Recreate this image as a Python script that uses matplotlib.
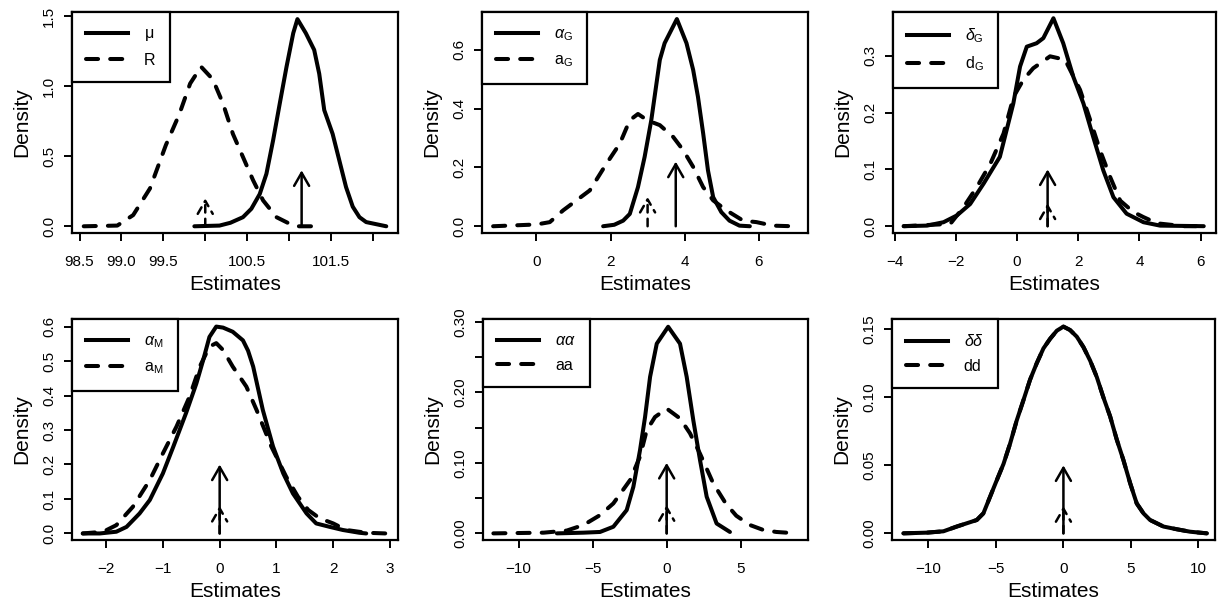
import matplotlib.pyplot as plt
from matplotlib.lines import Line2D

plt.rcParams['font.family'] = ['Liberation Sans', 'DejaVu Sans']
plt.rcParams['mathtext.fontset'] = 'custom'
plt.rcParams['mathtext.rm'] = 'Liberation Sans'
plt.rcParams['mathtext.it'] = 'Liberation Sans:italic'
plt.rcParams['mathtext.bf'] = 'Liberation Sans:bold'

# ---- density estimates ----
# panel 1: mu (solid) and R (dashed)
mu_x = [99.87, 100.17, 100.3, 100.45, 100.55, 100.65, 100.73, 100.81, 100.89, 100.97, 101.05, 101.1,
        101.2, 101.3, 101.36, 101.42, 101.52, 101.6, 101.68, 101.76, 101.84, 101.92, 102.0, 102.16]
mu_y = [0.0, 0.005, 0.025, 0.065, 0.125, 0.23, 0.375, 0.615, 0.88, 1.14, 1.38, 1.48,
        1.38, 1.26, 1.09, 0.83, 0.66, 0.47, 0.28, 0.14, 0.065, 0.03, 0.02, 0.0]
R_x = [98.55, 98.95, 99.14, 99.34, 99.53, 99.69, 99.82, 99.95, 100.09, 100.21, 100.33, 100.45,
       100.57, 100.69, 100.85, 101.0, 101.1, 101.36]
R_y = [0.0, 0.005, 0.08, 0.27, 0.58, 0.8, 1.02, 1.14, 1.05, 0.88, 0.66, 0.495,
       0.33, 0.185, 0.065, 0.02, 0.0, 0.0]

# panel 2: alpha_G (solid) and a_G (dashed)
alphaG_x = [1.8, 2.1, 2.34, 2.52, 2.74, 2.92, 3.1, 3.24, 3.33, 3.46, 3.79, 4.05, 4.23, 4.36,
            4.5, 4.63, 4.77, 4.99, 5.21, 5.48, 5.76]
alphaG_y = [0.0, 0.005, 0.019, 0.042, 0.133, 0.236, 0.361, 0.486, 0.566, 0.623, 0.705, 0.623, 0.532, 0.44,
            0.316, 0.19, 0.099, 0.048, 0.019, 0.002, 0.0]
aG_x = [-1.17, 0.0, 0.36, 0.72, 1.08, 1.44, 1.89, 2.25, 2.52, 2.74, 3.0, 3.33, 3.69, 3.96,
        4.23, 4.5, 4.77, 5.13, 5.58, 5.94, 6.38, 6.92]
aG_y = [0.0, 0.006, 0.014, 0.054, 0.088, 0.122, 0.213, 0.281, 0.361, 0.382, 0.36, 0.344, 0.304, 0.259,
        0.202, 0.133, 0.088, 0.054, 0.019, 0.014, 0.002, 0.0]

# panel 3: delta_G (solid) and d_G (dashed)
deltaG_x = [-3.7, -2.94, -2.4, -1.96, -1.53, -1.09, -0.56, -0.34, -0.12, 0.1, 0.32, 0.64, 0.86, 1.19,
            1.51, 1.84, 2.17, 2.49, 2.82, 3.15, 3.58, 4.13, 4.67, 6.1]
deltaG_y = [0.0, 0.001, 0.007, 0.019, 0.039, 0.075, 0.122, 0.169, 0.216, 0.281, 0.316, 0.322, 0.331, 0.366,
            0.322, 0.263, 0.216, 0.157, 0.098, 0.051, 0.022, 0.007, 0.001, 0.0]
dG_x = [-3.7, -2.18, -1.74, -1.31, -0.87, -0.44, -0.11, 0.21, 0.53, 1.08, 1.57, 2.06, 2.39, 2.71,
        3.04, 3.37, 3.8, 4.13, 4.58, 5.45, 6.1]
dG_y = [0.0, 0.004, 0.034, 0.069, 0.11, 0.163, 0.228, 0.258, 0.278, 0.299, 0.293, 0.24, 0.187, 0.134,
        0.087, 0.045, 0.025, 0.016, 0.005, 0.0, 0.0]

# panel 4: alpha_M (solid) and a_M (dashed)
alphaM_x = [-2.41, -2.11, -1.82, -1.64, -1.41, -1.23, -1.0, -0.82, -0.59, -0.41, -0.29, -0.18, -0.06,
            0.06, 0.23, 0.41, 0.5, 0.59, 0.76, 0.94, 1.12, 1.29, 1.53, 1.7, 1.94, 2.17, 2.46, 2.58]
alphaM_y = [0.0, 0.0, 0.005, 0.019, 0.058, 0.097, 0.174, 0.25, 0.35, 0.435, 0.503, 0.57, 0.6,
            0.597, 0.585, 0.56, 0.53, 0.484, 0.358, 0.252, 0.174, 0.116, 0.058, 0.029, 0.019, 0.01, 0.002, 0.0]
aM_x = [-2.41, -2.05, -1.82, -1.53, -1.23, -1.0, -0.76, -0.53, -0.35, -0.18, -0.06, 0.06, 0.23, 0.47,
        0.65, 0.91, 1.17, 1.38, 1.56, 1.76, 2.0, 2.23, 2.58, 2.93]
aM_y = [0.0, 0.005, 0.024, 0.077, 0.155, 0.232, 0.31, 0.397, 0.484, 0.542, 0.552, 0.532, 0.484, 0.426,
        0.358, 0.252, 0.165, 0.106, 0.068, 0.044, 0.029, 0.01, 0.002, 0.0]

# panel 5: alpha-alpha (solid) and aa (dashed)
alphaalpha_x = [-7.41, -5.61, -4.5, -3.6, -2.7, -2.25, -1.8, -1.46, -1.12, -0.67, 0.1, 0.9, 1.35,
                1.8, 2.25, 2.7, 3.37, 4.27]
alphaalpha_y = [0.0, 0.001, 0.002, 0.0094, 0.033, 0.066, 0.118, 0.165, 0.222, 0.269, 0.293, 0.269, 0.222,
                0.16, 0.104, 0.052, 0.014, 0.002]
aa_x = [-11.7, -8.3, -6.74, -5.6, -4.49, -3.6, -2.47, -1.8, -1.35, -0.79, 0.0, 0.9, 1.57, 2.25,
        3.14, 4.0, 4.7, 5.6, 6.5, 7.4, 8.8]
aa_y = [0.0, 0.001, 0.004, 0.012, 0.026, 0.0425, 0.0756, 0.109, 0.146, 0.165, 0.177, 0.163, 0.142, 0.113,
        0.071, 0.042, 0.025, 0.012, 0.005, 0.002, 0.0]

# panel 6: delta-delta (solid) and dd (dashed, hidden under the solid curve)
deltadelta_x = [-11.85, -10.12, -8.89, -7.9, -7.16, -6.42, -5.93, -5.43, -4.94, -4.44, -3.95, -3.46,
                -2.96, -2.47, -1.98, -1.48, -0.99, -0.49, 0.0, 0.49, 0.99, 1.48, 1.98, 2.47, 2.96,
                3.46, 3.95, 4.44, 4.94, 5.43, 5.93, 6.42, 7.41, 8.4, 9.38, 10.62]
deltadelta_y = [0.0, 0.0005, 0.0015, 0.005, 0.0074, 0.0098, 0.0147, 0.027, 0.039, 0.051, 0.066, 0.083,
                0.098, 0.113, 0.125, 0.136, 0.143, 0.149, 0.152, 0.1495, 0.1446, 0.137, 0.127, 0.115, 0.1,
                0.086, 0.069, 0.054, 0.037, 0.022, 0.0147, 0.0098, 0.005, 0.003, 0.0012, 0.0]
dd_x = [-11.85, -10.12, -8.89, -7.9, -7.16, -6.42, -5.93, -5.43, -4.94, -4.44, -3.95, -3.46,
        -2.96, -2.47, -1.98, -1.48, -0.99, -0.49, 0.0, 0.49, 0.99, 1.48, 1.98, 2.47, 2.96,
        3.46, 3.95, 4.44, 4.94, 5.43, 5.93, 6.42, 7.41, 8.4, 9.38, 10.62]
dd_y = [0.0, 0.0005, 0.0015, 0.005, 0.0074, 0.0098, 0.0147, 0.027, 0.039, 0.051, 0.066, 0.083,
        0.098, 0.113, 0.125, 0.136, 0.143, 0.149, 0.152, 0.1495, 0.1446, 0.137, 0.127, 0.115, 0.1,
        0.086, 0.069, 0.054, 0.037, 0.022, 0.0147, 0.0098, 0.005, 0.003, 0.0012, 0.0]

# true values (arrow position) and arrow heights: [solid, dashed]
true_values = [[101.15, 100.0], [3.76, 3.0], [1.0, 1.0], [0.0, 0.0], [0.0, 0.0], [0.0, 0.0]]
arrow_heights = [[0.4, 0.2], [0.22, 0.1], [0.1, 0.04], [0.2, 0.08], [0.1, 0.04], [0.05, 0.02]]

legend_labels = [[r'$\mathrm{\mu}$', 'R'],
                 [r'$\alpha_{\mathrm{G}}$', r'$\mathrm{a_G}$'],
                 [r'$\delta_{\mathrm{G}}$', r'$\mathrm{d_G}$'],
                 [r'$\alpha_{\mathrm{M}}$', r'$\mathrm{a_M}$'],
                 [r'$\alpha\alpha$', 'aa'],
                 [r'$\delta\delta$', 'dd']]

# axis ticks and labels
x_ticks = [[98.5, 99.0, 99.5, 100.0, 100.5, 101.0, 101.5, 102.0],
           [0, 2, 4, 6], [-4, -2, 0, 2, 4, 6], [-2, -1, 0, 1, 2, 3],
           [-10, -5, 0, 5], [-10, -5, 0, 5, 10]]
x_tick_labels = [['98.5', '99.0', '99.5', '', '100.5', '', '101.5', ''],
                 ['0', '2', '4', '6'],
                 ['\u22124', '\u22122', '0', '2', '4', '6'],
                 ['\u22122', '\u22121', '0', '1', '2', '3'],
                 ['\u221210', '\u22125', '0', '5'],
                 ['\u221210', '\u22125', '0', '5', '10']]
y_ticks = [[0.0, 0.5, 1.0, 1.5], [0.0, 0.2, 0.4, 0.6], [0.0, 0.1, 0.2, 0.3],
           [0.0, 0.1, 0.2, 0.3, 0.4, 0.5, 0.6],
           [0.0, 0.05, 0.10, 0.15, 0.20, 0.25, 0.30], [0.0, 0.05, 0.10, 0.15]]
y_tick_labels = [['0.0', '0.5', '1.0', '1.5'], ['0.0', '0.2', '0.4', '0.6'],
                 ['0.0', '0.1', '0.2', '0.3'],
                 ['0.0', '0.1', '0.2', '0.3', '0.4', '0.5', '0.6'],
                 ['0.00', '', '0.10', '', '0.20', '', '0.30'],
                 ['0.00', '0.05', '0.10', '0.15']]
x_limits = [(98.41, 102.30), (-1.47, 7.33), (-4.05, 6.50), (-2.60, 3.14), (-12.4, 9.54), (-12.7, 11.23)]
y_limits = [(-0.048, 1.531), (-0.023, 0.729), (-0.012, 0.377), (-0.019, 0.622), (-0.0094, 0.304),
            (-0.0049, 0.1576)]

# axes boxes in pixels: left, top, right, bottom
W, H = 1227, 605
boxes = [(72, 12, 398, 233), (482, 12, 808, 233), (893, 12, 1216, 233),
         (72, 319, 398, 540), (483, 319, 808, 540), (892, 319, 1215, 540)]

LW = 2.9
DASH = (0, (3, 3))


def draw_panel(ax, i, solid, dashed):
    ax.plot(dashed[0], dashed[1], color='black', lw=LW, ls=DASH,
            dash_capstyle='round', dash_joinstyle='round')
    ax.plot(solid[0], solid[1], color='black', lw=LW,
            solid_capstyle='round', solid_joinstyle='round')

    # arrows marking the true values
    head = '->,head_length=9.4,head_width=5.4'
    ax.annotate('', xy=(true_values[i][0], arrow_heights[i][0]), xytext=(true_values[i][0], 0),
                arrowprops=dict(arrowstyle=head, mutation_scale=1, lw=1.8, color='black',
                                shrinkA=0, shrinkB=0, capstyle='round'))
    ax.annotate('', xy=(true_values[i][1], arrow_heights[i][1]), xytext=(true_values[i][1], 0),
                arrowprops=dict(arrowstyle=head, mutation_scale=1, lw=1.8, color='black',
                                shrinkA=0, shrinkB=0, linestyle=(0, (3, 2.5)), capstyle='round'))

    ax.set_xlim(x_limits[i])
    ax.set_ylim(y_limits[i])
    ax.set_xticks(x_ticks[i])
    ax.set_xticklabels(x_tick_labels[i])
    ax.set_yticks(y_ticks[i])
    ax.set_yticklabels(y_tick_labels[i], rotation=90, va='center')
    ax.tick_params(direction='out', length=6, width=1.4, labelsize=11)
    ax.tick_params(axis='x', pad=9.5)
    ax.tick_params(axis='y', pad=5.5)
    for s in ax.spines.values():
        s.set_linewidth(1.6)
    ax.set_xlabel('Estimates', fontsize=15, labelpad=5)
    ax.set_ylabel('Density', fontsize=15, labelpad=8)

    handles = [Line2D([], [], color='black', lw=LW),
               Line2D([], [], color='black', lw=LW, ls=DASH, dash_capstyle='round')]
    leg = ax.legend(handles, legend_labels[i], loc='upper left', bbox_to_anchor=(0, 1),
                    borderaxespad=0, fancybox=False, edgecolor='black', framealpha=1,
                    fontsize=11.5, handlelength=2.6, handletextpad=1.0, borderpad=0.9,
                    labelspacing=0.6)
    leg.get_frame().set_linewidth(1.6)


if __name__ == "__main__":
    fig = plt.figure(figsize=(W / 100, H / 100), dpi=100)
    series = [((mu_x, mu_y), (R_x, R_y)),
              ((alphaG_x, alphaG_y), (aG_x, aG_y)),
              ((deltaG_x, deltaG_y), (dG_x, dG_y)),
              ((alphaM_x, alphaM_y), (aM_x, aM_y)),
              ((alphaalpha_x, alphaalpha_y), (aa_x, aa_y)),
              ((deltadelta_x, deltadelta_y), (dd_x, dd_y))]
    for i, (l, t, r, b) in enumerate(boxes):
        ax = fig.add_axes([l / W, 1 - b / H, (r - l) / W, (b - t) / H])
        draw_panel(ax, i, series[i][0], series[i][1])
    fig.savefig('out.png', dpi=100)
